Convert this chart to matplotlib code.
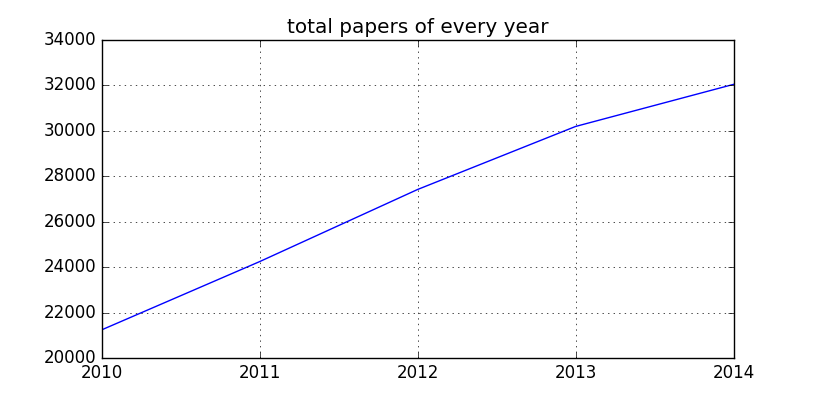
import matplotlib

matplotlib.use("Agg")
import matplotlib.pyplot as plt  # noqa: E402

years = [2010, 2011, 2012, 2013, 2014]
papers = [21250, 24250, 27420, 30190, 32040]

plt.style.use("classic")
fig = plt.figure(figsize=(8.15, 3.98), dpi=100)
ax = fig.add_subplot(111)
ax.plot(years, papers, color="b", lw=1)
ax.set_title("total papers of every year")
ax.set_xlim(2010, 2014)
ax.set_ylim(20000, 34000)
ax.set_xticks(years)
ax.ticklabel_format(useOffset=False, style="plain")
ax.grid(True)
fig.savefig("out.png", dpi=100)
